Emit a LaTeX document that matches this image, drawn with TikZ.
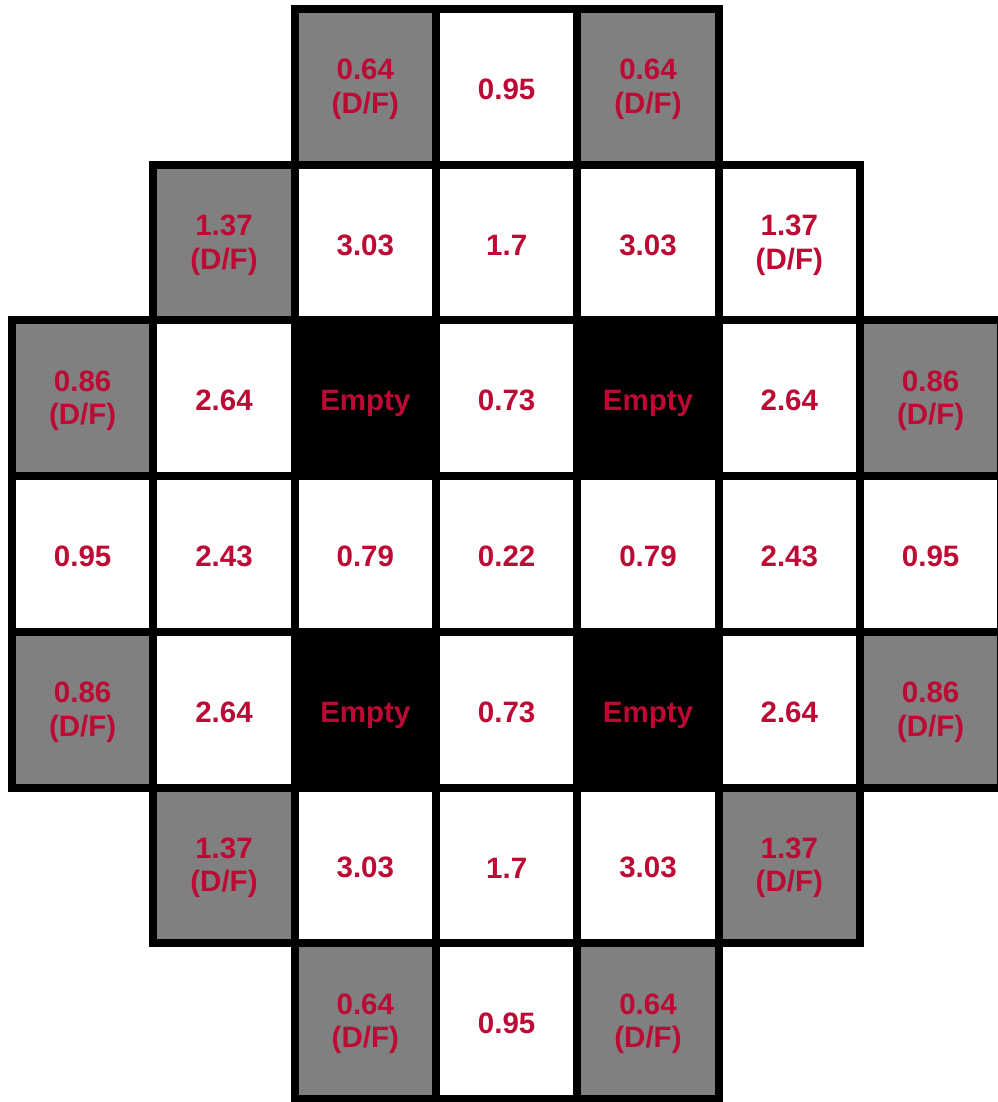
\documentclass[tikz,border=0pt]{standalone}
\usepackage{fontspec}
\setmainfont{Liberation Sans}
\definecolor{crimson}{RGB}{188,10,52}
\definecolor{cellgray}{RGB}{128,128,128}
\begin{document}
\begin{tikzpicture}[x=1pt,y=-1pt,
  cell/.style={draw=black,line width=8pt,minimum width=141.33pt,minimum height=155.7pt,
    inner sep=0pt,outer sep=0pt},
  celltext/.style={inner sep=0pt,align=center,text=crimson,yshift=-2.5pt,
    font=\fontsize{29.5}{33.5}\selectfont\bfseries},
  wcell/.style={cell,fill=white},
  gcell/.style={cell,fill=cellgray},
  bcell/.style={cell,fill=black}]
\useasboundingbox (0,0) rectangle (997,1102);
\fill[white] (0,0) rectangle (997,1102);
\newcommand\gridcell[5]{%
  \node[#1,label={[celltext,name=#2t]center:{#5}}] (#2) at ({12+141.33*(#3+0.5)},{9+155.7*(#4+0.5)}) {};}
\newcommand\emptytext{\raisebox{0pt}[\height][0pt]{Empty}}
% row 0
\gridcell{gcell}{c2r0}{2}{0}{0.64\\(D/F)}
\gridcell{wcell}{c3r0}{3}{0}{0.95}
\gridcell{gcell}{c4r0}{4}{0}{0.64\\(D/F)}
% row 1
\gridcell{gcell}{c1r1}{1}{1}{1.37\\(D/F)}
\gridcell{wcell}{c2r1}{2}{1}{3.03}
\gridcell{wcell}{c3r1}{3}{1}{1.7}
\gridcell{wcell}{c4r1}{4}{1}{3.03}
\gridcell{wcell}{c5r1}{5}{1}{1.37\\(D/F)}
% row 2
\gridcell{gcell}{c0r2}{0}{2}{0.86\\(D/F)}
\gridcell{wcell}{c1r2}{1}{2}{2.64}
\gridcell{bcell}{c2r2}{2}{2}{\emptytext}
\gridcell{wcell}{c3r2}{3}{2}{0.73}
\gridcell{bcell}{c4r2}{4}{2}{\emptytext}
\gridcell{wcell}{c5r2}{5}{2}{2.64}
\gridcell{gcell}{c6r2}{6}{2}{0.86\\(D/F)}
% row 3
\gridcell{wcell}{c0r3}{0}{3}{0.95}
\gridcell{wcell}{c1r3}{1}{3}{2.43}
\gridcell{wcell}{c2r3}{2}{3}{0.79}
\gridcell{wcell}{c3r3}{3}{3}{0.22}
\gridcell{wcell}{c4r3}{4}{3}{0.79}
\gridcell{wcell}{c5r3}{5}{3}{2.43}
\gridcell{wcell}{c6r3}{6}{3}{0.95}
% row 4
\gridcell{gcell}{c0r4}{0}{4}{0.86\\(D/F)}
\gridcell{wcell}{c1r4}{1}{4}{2.64}
\gridcell{bcell}{c2r4}{2}{4}{\emptytext}
\gridcell{wcell}{c3r4}{3}{4}{0.73}
\gridcell{bcell}{c4r4}{4}{4}{\emptytext}
\gridcell{wcell}{c5r4}{5}{4}{2.64}
\gridcell{gcell}{c6r4}{6}{4}{0.86\\(D/F)}
% row 5
\gridcell{gcell}{c1r5}{1}{5}{1.37\\(D/F)}
\gridcell{wcell}{c2r5}{2}{5}{3.03}
\gridcell{wcell}{c3r5}{3}{5}{1.7}
\gridcell{wcell}{c4r5}{4}{5}{3.03}
\gridcell{gcell}{c5r5}{5}{5}{1.37\\(D/F)}
% row 6
\gridcell{gcell}{c2r6}{2}{6}{0.64\\(D/F)}
\gridcell{wcell}{c3r6}{3}{6}{0.95}
\gridcell{gcell}{c4r6}{4}{6}{0.64\\(D/F)}
\end{tikzpicture}
\end{document}
